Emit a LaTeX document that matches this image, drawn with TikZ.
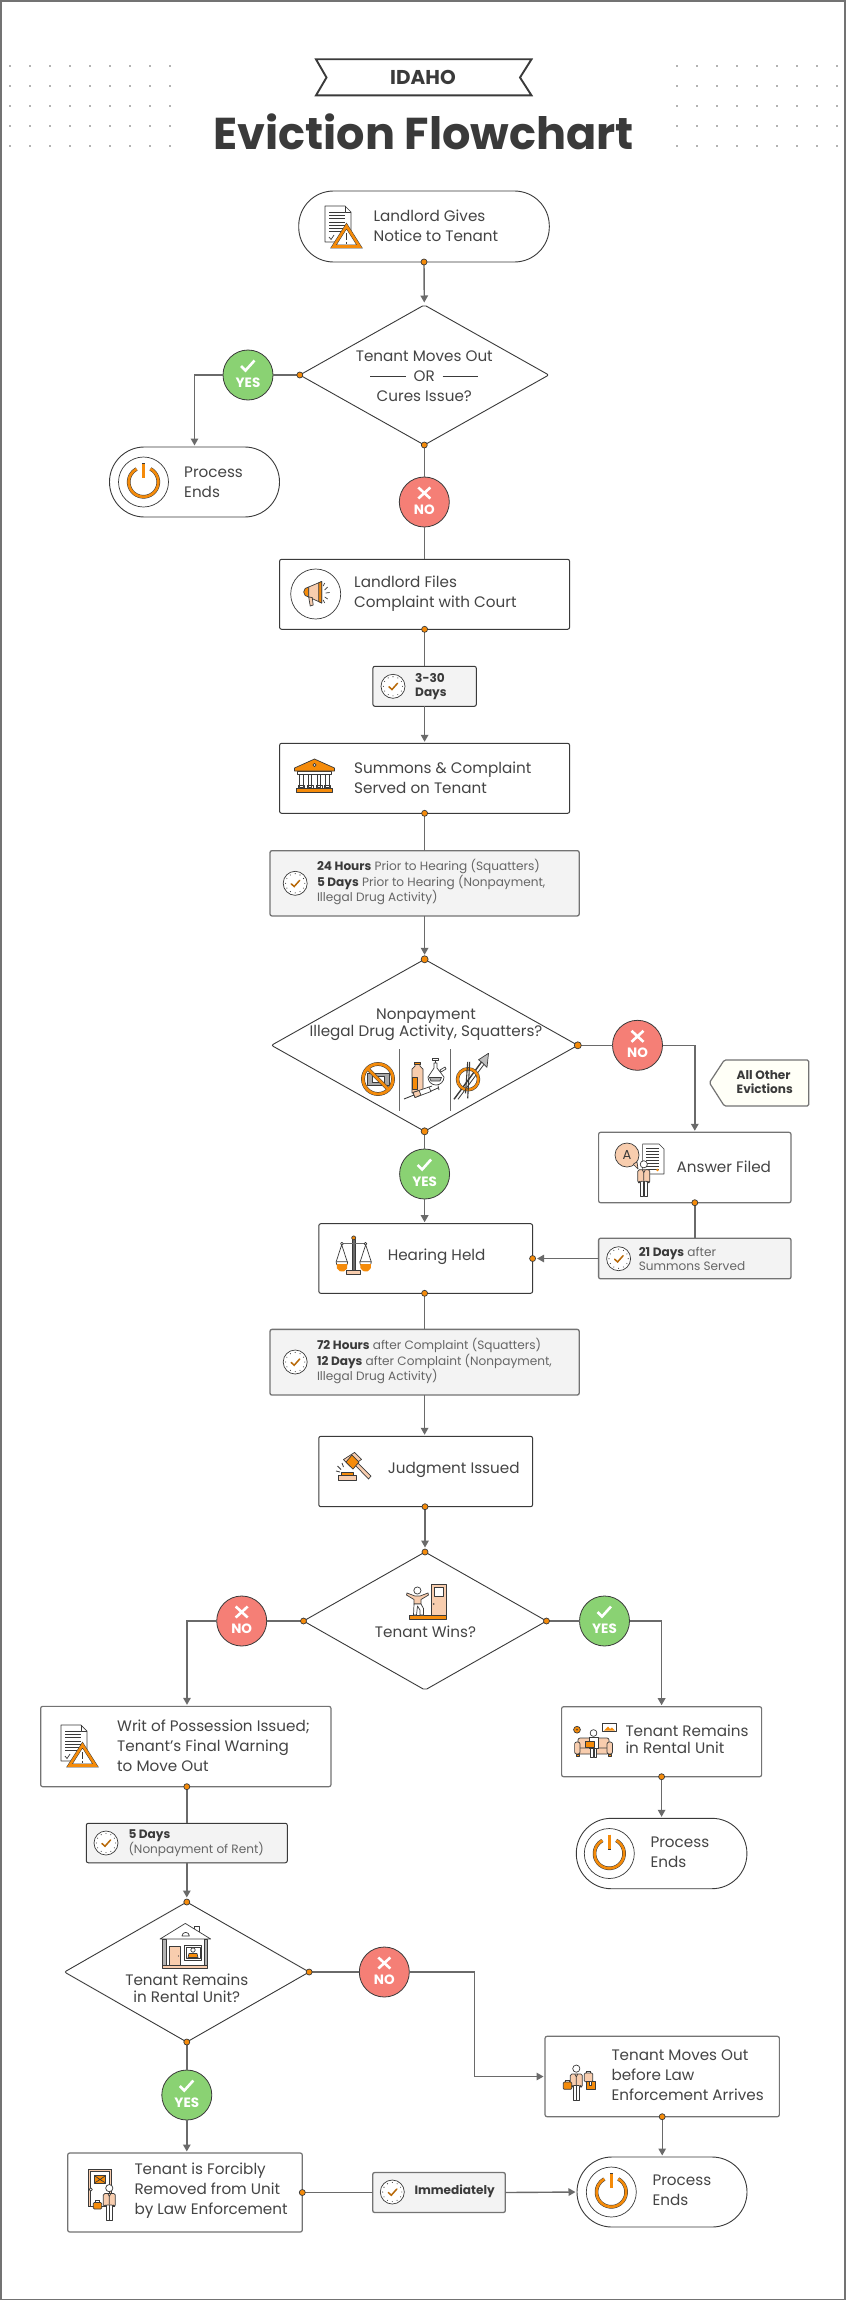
\documentclass[tikz,border=0pt]{standalone}
\usepackage{fontspec}
\setmainfont{Poppins}
\usetikzlibrary{arrows.meta,shapes.geometric,calc}
\definecolor{ink}{HTML}{3A3A3A}
\definecolor{txtc}{HTML}{444444}
\definecolor{subc}{HTML}{666666}
\definecolor{org}{HTML}{F58B0A}
\definecolor{peach}{HTML}{F8CDAE}
\definecolor{grn}{HTML}{8AD273}
\definecolor{rd}{HTML}{F57F76}
\definecolor{boxg}{HTML}{F3F3F3}
\definecolor{gline}{HTML}{6A6A6A}
\tikzset{
 ic/.style={draw=ink,line width=.7pt,line join=round},
 bx/.style={rectangle,draw=ink,line width=1pt,fill=white,rounded corners=2pt,inner sep=0,outer sep=0},
 gbx/.style={bx,draw=gray!90!black,line width=1.3pt,fill=boxg},
 wbx/.style={bx,draw=gray!90!black,line width=1.2pt},
 pill/.style={bx,line width=.9pt,rounded corners=34.9pt},
 dmd/.style={diamond,draw=ink,line width=.9pt,fill=white,inner sep=0,outer sep=0,rounded corners=2pt},
 dotn/.style={circle,fill=org,draw=ink,line width=.7pt,inner sep=0,minimum size=6pt,outer sep=0},
 conn/.style={draw=gline,line width=1.4pt},
 arr/.style={conn,-{Triangle[length=7pt,width=7.5pt]},shorten >=1.5pt},
 txt/.style={anchor=west,align=left,inner sep=0,text=txtc,font=\fontsize{15.2}{20}\selectfont},
 ctxt/.style={txt,anchor=center,align=center},
 sm/.style={anchor=west,align=left,inner sep=0,text=subc,font=\fontsize{12.1}{14}\selectfont},
 badge/.style={circle,draw=ink,line width=.8pt,minimum size=50pt,inner sep=0,outer sep=0},
 btxt/.style={inner sep=0,text=white,font=\fontsize{13.5}{14}\selectfont\bfseries},
 pics/clock/.style={code={
   \draw[ic,fill=white] (0,0) circle[radius=12pt];
   \foreach \a in {0,30,...,330}{\fill[ink] (\a:9.6pt) circle[radius=.55pt];}
   \draw[org!75!black,line width=1.5pt,line cap=round] (-4,0.5)--(-1,3.2)--(4.5,-3);
 }},
 pics/power/.style={code={
   \draw[ic,fill=white] (0,0) circle[radius=25pt];
   \draw[ink,line width=3.6pt] (62:14.8pt) arc[start angle=62,end angle=-242,radius=14.8pt];
   \draw[org,line width=2.6pt] (62:14.8pt) arc[start angle=62,end angle=-242,radius=14.8pt];
   \draw[ink,line width=3.4pt] (0,-19)--(0,-4);
   \draw[org,line width=2.4pt] (0,-18.5)--(0,-4.5);
 }},
 pics/docwarn/.style={code={
   \draw[ic,fill=white] (0,0)--(20,0)--(26,6)--(26,36)--(0,36)--cycle;
   \draw[ic] (20,0)--(20,6)--(26,6);
   \foreach \y in {6,9.3,...,28}{\draw[ink,line width=.8pt] (4,\y)--(20,\y);}
   \draw[ink,line width=.7pt] (4,31)--(6,33.5)--(9,29);
   \draw[ink,line width=3.6pt,fill=white,line join=miter] (21.5,20)--(8.5,40.5)--(34.5,40.5)--cycle;
   \draw[org,line width=2.6pt,line join=miter] (21.5,20)--(8.5,40.5)--(34.5,40.5)--cycle;
   \draw[ink,line width=1.4pt] (21.5,27)--(21.5,34) (21.5,35.5)--(21.5,37.5);
 }},
 pics/horn/.style={code={
   \draw[ic,fill=org] (-7,-7) arc[start angle=90,end angle=270,radius=5pt]--cycle;
   \draw[ic,fill=peach] (-7,-7)--(6,-12.5)--(6,9)--(-7,3)--cycle;
   \draw[ic,fill=org] (3,-11.3)--(6,-12.5)--(6,9)--(3,7.6)--cycle;
   \draw[ic,fill=peach] (-7,3)--(-3.5,3.5)--(-2.5,11)--(-5.5,12)--cycle;
   \draw[ink,line width=.7pt] (9,-4)--(12,-7) (10,-1)--(14,-1.5) (9,3)--(12,5) (7.5,-8)--(9,-11) (7.5,6)--(9,9);
 }},
 pics/bank/.style={code={
   \draw[ic,fill=white] (-17,-5) rectangle (17,-1.5);
   \foreach \x in {-13,-4.5,4.5,13}{\draw[ic,fill=white] (\x-1.8,-1.5) rectangle (\x+1.8,11);\draw[ic] (\x-3,9.5) rectangle (\x+3,12);}
   \draw[ic,fill=org] (-20,-8)--(0,-17)--(20,-8)--(20,-5)--(-20,-5)--cycle;
   \draw[ic,fill=white] (0,-11) circle[radius=1.6pt];
   \draw[ic,fill=org] (-18,12) rectangle (18,16);
 }},
 pics/nomoney/.style={code={
   \draw[ic,fill=gray!70] (-11,-6) rectangle (11,6);
   \draw[ic,fill=white] (-6,-3) rectangle (6,3);
   \draw[ink,line width=3.8pt] (0,0) circle[radius=15pt] (-10.5,-10.5)--(10.5,10.5);
   \draw[org,line width=2.8pt] (0,0) circle[radius=15pt] (-10.6,-10.6)--(10.6,10.6);
 }},
 pics/drugs/.style={code={
   \draw[ic,fill=peach] (8,21)--(8,11)--(11,8)--(11,5)--(16,5)--(16,8)--(19,11)--(19,35)--(8,35)--cycle;
   \draw[ic,fill=org] (8,19) rectangle (13,31);
   \draw[ic,fill=org] (10.5,4) rectangle (16.5,6.5);
   \draw[ic,fill=white] (30,5)--(30,10)--(24,19) arc[start angle=180,end angle=360,radius=8pt]--(33,10)--(33,5)--cycle;
   \draw[ic,fill=gray!60] (25.5,19.5)--(37.5,19.5)--(36,23)--(27,23)--cycle;
   \draw[ic,fill=white] (36,12) -- (41,9)--(42,11)--(37,14)--cycle;
   \draw[ic,fill=white] (28.5,0.8) rectangle (34.5,2.8) ;
   \draw[ink,line width=.7pt] (31.5,3)--(31.5,5);
   \draw[ink,line width=.9pt] (0,41)--(10,37);
   \draw[ic,fill=white] (9,34.5)--(25,29)--(27,33.5)--(11,39.5)--cycle;
   \draw[ic,fill=peach] (9,34.5)--(15,32.5)--(17,37)--(11,39.5)--cycle;
   \draw[ink,line width=.8pt] (25,29)--(28,28) (26,33.5)--(34,30) (34,27.5)--(35,32);
 }},
 pics/crossarrow/.style={code={
   \draw[ink,line width=1.4pt,fill=white] (0,46)--(28,8);
   \draw[ink,line width=.8pt] (4,46)--(30,11);
   \draw[ic,fill=gray!50] (34.5,0)--(33,14)--(28.5,9.5)--(24.5,6.5)--cycle;
   \draw[ink,line width=3.4pt] (14,26) circle[radius=10.5pt];
   \draw[org,line width=2.4pt] (14,26) circle[radius=10.5pt];
   \draw[ink,line width=1.1pt] (15.7,8.5)--(13.7,45);
   \draw[ink,line width=1.1pt] (13.7,8.5)--(11.5,40);
 }},
 pics/human/.style={code={
   \draw[ic,fill=white] (0,3.6) circle[radius=3.6pt];
   \draw[ic,fill=white] (-3.2,20)--(-3.2,35.5)--(-.3,35.5)--(-.3,20)--cycle;
   \draw[ic,fill=white] (.3,20)--(.3,35.5)--(3.2,35.5)--(3.2,20)--cycle;
   \draw[ic,fill=peach,rounded corners=1.5pt] (-6,9)--(6,9)--(6,22)--(4,22)--(4,20.5)--(-4,20.5)--(-4,22)--(-6,22)--cycle;
   \draw[ink,line width=.7pt] (-1.5,9)--(0,12)--(1.5,9) (0,12)--(0,20);
 }},
 pics/scales/.style={code={
   \draw[ic,fill=peach] (-7,34.5) rectangle (7,38.5);
   \draw[ic,fill=gline] (-1.3,4) rectangle (1.3,34.5);
   \draw[gline,line width=1.2pt] (-12,8)--(12,8);
   \draw[ink,line width=.7pt] (-12,9)--(-17.5,26) (-12,9)--(-6.5,26) (12,9)--(6.5,26) (12,9)--(17.5,26);
   \foreach \s in {-11.8,11.8}{
     \draw[ic,fill=white] (\s-5.8,26) arc[start angle=180,end angle=360,radius=5.8pt]--cycle;
     \fill[org] (\s-5.4,28.5)--(\s+5.4,28.5) arc[start angle=20,end angle=-200,radius=5.6pt]--cycle;
     \draw[ic,fill=white] (\s,8) circle[radius=1.4pt];}
   \draw[ic,fill=org] (0,2.2) circle[radius=2pt];
 }},
 pics/gavel/.style={code={
   \draw[ic,fill=peach] (2,23) rectangle (20,28.5);
   \draw[ic,fill=org] (5,20.5) rectangle (17,23);
   \draw[ink,line width=.8pt] (0,19)--(4,20) (1.5,14)--(5,17.5) (6,11)--(7.5,15);
   \draw[ic,fill=peach] (19,13)--(21.5,10.5)--(35,24)--(32.5,27)--cycle;
   \draw[ic,fill=peach] (25.6,7.4)--(18.6,.4)--(7.4,7.6)--(14.4,14.6)--cycle;
   \draw[ic,fill=org] (23,10)--(16,3)--(10,10)--(17,17)--cycle;
 }},
 pics/winner/.style={code={
   \draw[ic,fill=peach] (25.6,0) rectangle (40,31);
   \draw[ic,fill=white] (28.5,3) rectangle (37,12);
   \fill[ink] (27.8,20) circle[radius=.9pt];
   \draw[ic,fill=org] (3.6,31) rectangle (40,35.5);
   \draw[ink,fill=peach,line width=.7pt] (1,9)--(9,12)--(14,12)--(22,9)--(22.5,11)--(15,15.5)--(15,20)--(8,20)--(8,15.5)--(.5,11)--cycle;
   \draw[ic,fill=white] (11.4,6.5) circle[radius=3.6pt];
   \draw[ic,fill=white] (8,20)--(7.5,31)--(10.5,31)--(11.5,22)--(14,26)--(14,31)--(17.5,31)--(17.5,24.5)--(15,20)--cycle;
 }},
 pics/couch/.style={code={
   \draw[ink,line width=.7pt,fill=org] (4,6.7) circle[radius=3.4pt];
   \fill[ink] (4,6.7) circle[radius=.8pt];
   \draw[ic,fill=white] (29.5,0) rectangle (43,8.7);
   \fill[org] (31,7.5)--(35,3.5)--(37,6)--(39,4.5)--(42,7.5)--cycle;
   \draw[ic,fill=peach,rounded corners=2pt] (5,15) rectangle (36,27);
   \draw[ic,fill=peach,rounded corners=2pt] (5,25) rectangle (36,31);
   \draw[ic,fill=peach,rounded corners=2pt] (1.6,19) rectangle (7,31);
   \draw[ic,fill=peach,rounded corners=2pt] (34,19) rectangle (39.5,31);
   \draw[ic,fill=org] (3,31) rectangle (6,33.5) (35,31) rectangle (38,33.5);
   \draw[ic,fill=white] (20.5,10) circle[radius=3.4pt];
   \draw[ic,fill=white] (16,14) rectangle (25,25);
   \draw[ic,fill=white] (17.5,25) rectangle (20,34) (21,25) rectangle (23.5,34);
   \draw[ic,fill=org] (12.6,18.7) rectangle (21.6,24);
 }},
 pics/house/.style={code={
   \draw[ic,fill=white] (34,3.5) rectangle (39,9);
   \draw[ic,fill=white] (0,16)--(25.3,.4)--(50.7,16)--(47.5,16)--(2.7,16)--cycle;
   \draw[ic,fill=white] (22,13) arc[start angle=180,end angle=0,radius=3.7pt]--cycle;
   \draw[ic,fill=gray!60] (2.7,16) rectangle (6,42.7);
   \draw[ic,fill=gray!60] (44.5,16) rectangle (47.7,42.7);
   \draw[ic,fill=peach] (9.3,23) rectangle (20.7,42.7);
   \fill[ink] (18.5,33) circle[radius=.7pt];
   \draw[ic,fill=white] (24.3,22) rectangle (41.7,37);
   \draw[ic,fill=white] (26,24) rectangle (40,35);
   \draw[ic,fill=white] (33,27) circle[radius=2.2pt];
   \draw[ic,fill=org] (28,34.5)--(29,30.5)--(37,30.5)--(38,34.5)--cycle;
   \draw[ic,fill=peach] (2.7,42.7) rectangle (47.7,45.4);
 }},
 pics/forced/.style={code={
   \draw[ink,line width=.7pt,fill=peach] (0,0) rectangle (23.7,37.7);
   \draw[ink,line width=.7pt,fill=white] (2.8,2.8) rectangle (21,37.7);
   \draw[ic,fill=org] (6.3,6.5) rectangle (17.7,14);
   \draw[ink,line width=.7pt] (6.3,6.5)--(12,10.5)--(17.7,6.5) (6.3,14)--(12,10.5)--(17.7,14);
   \draw[ic,fill=white] (2.8,20.5) circle[radius=1.6pt];
   \draw[ic,fill=org,rounded corners=1pt] (5.3,33.5) rectangle (13.7,40);
   \draw[ink,line width=.7pt] (7.5,33.5)--(7.5,31.7)--(11.5,31.7)--(11.5,33.5);
   \draw[ink,line width=.7pt] (13.7,37)--(17,37);
   \begin{scope}[shift={(21.3,15.5)},scale=.72]\pic {human};\end{scope}
 }},
 pics/movers/.style={code={
   \begin{scope}[shift={(13.3,4)},scale=.73]\pic {human};\end{scope}
   \draw[ic,fill=org,rounded corners=1pt] (.3,21) rectangle (8.7,28.3);
   \draw[ink,line width=.7pt] (2.5,21)--(2.5,19)--(6.5,19)--(6.5,21);
   \draw[ic,fill=peach,rounded corners=1pt] (21.3,12) rectangle (29.7,20.7);
   \draw[ink,line width=.7pt] (23.5,12)--(23.5,10)--(27.5,10)--(27.5,12);
   \draw[ic,fill=org] (23,20) rectangle (32,28);
   \draw[ic,fill=white] (26.5,20) rectangle (28.5,24);
 }},
}
\newcommand{\yesb}[3]{%
 \node[badge,fill=grn] (#1) at (#2,#3) {};
 \node[btxt] (#1t) at (#2,#3+7.5) {YES};
 \draw[white,line width=2.6pt] (#2-7,#3-9)--(#2-2.5,#3-4.5)--(#2+6.5,#3-14.5);
}
\newcommand{\nob}[3]{%
 \node[badge,fill=rd] (#1) at (#2,#3) {};
 \node[btxt] (#1t) at (#2,#3+7.5) {NO};
 \draw[white,line width=2.6pt] (#2-6,#3-14.5)--(#2+6,#3-3.5) (#2+6,#3-14.5)--(#2-6,#3-3.5);
}
\begin{document}
\begin{tikzpicture}[x=1pt,y=-1pt]
\useasboundingbox (0,0) rectangle (846,2301);
\draw[draw=gray!90!black,fill=white,line width=1.8pt] (.8,.8) rectangle (845,2299.5);
% dots
\foreach \y in {66,86,106,126,146}{\foreach \x in {0,...,8}{
  \fill[gray!80!black] (10+20*\x,\y) circle[radius=.8pt];
  \fill[gray!80!black] (677+20*\x,\y) circle[radius=.8pt];}}
% title
\draw[ink,line width=1.9pt,fill=white] (316,59.3)--(531.5,59.3)--(520,77.5)--(531.5,95.4)--(316,95.4)--(326.5,77.5)--cycle;
\node[inner sep=0,text=ink,font=\fontsize{20}{22}\selectfont\bfseries] (idaho) at (423,77.5) {IDAHO};
\node[inner sep=0,text=ink,font=\fontsize{44.6}{48}\selectfont\bfseries] (title) at (423.5,131.5) {Eviction Flowchart};
% shapes
\node[pill,minimum width=250.6pt,minimum height=71pt] (start) at (424,226.5) {};
\node[dmd,minimum width=249pt,minimum height=140pt] (D1) at (424.3,375) {};
\node[pill,minimum width=170pt,minimum height=70pt] (PE1) at (194.5,482) {};
\node[bx,minimum width=290pt,minimum height=70pt] (LF) at (424.6,594.3) {};
\node[gbx,draw=ink,line width=1pt,minimum width=103.4pt,minimum height=40pt] (T330) at (424.6,686.3) {};
\node[bx,minimum width=290pt,minimum height=70pt] (SC) at (424.6,778.3) {};
\node[gbx,minimum width=309.2pt,minimum height=65.3pt] (T24) at (424.6,883.3) {};
\node[dmd,minimum width=306.4pt,minimum height=172pt] (D2) at (424.6,1045.3) {};
\node[wbx,minimum width=192.4pt,minimum height=70.4pt] (Ans) at (694.8,1167.5) {};
\node[gbx,minimum width=192.4pt,minimum height=40.6pt] (T21) at (694.8,1258.5) {};
\node[bx,minimum width=213.8pt,minimum height=69.6pt] (Hear) at (425.7,1258.5) {};
\node[gbx,minimum width=309.2pt,minimum height=65.7pt] (T72) at (424.6,1362.2) {};
\node[bx,minimum width=213.8pt,minimum height=70.4pt] (Judg) at (425.7,1471.5) {};
\node[dmd,minimum width=243pt,minimum height=138pt] (D3) at (425,1621) {};
\node[wbx,minimum width=200pt,minimum height=70pt] (TR) at (661.6,1741.7) {};
\node[pill,minimum width=170.6pt,minimum height=70.4pt] (PE2) at (661.6,1853.5) {};
\node[wbx,minimum width=290.3pt,minimum height=80.3pt] (Writ) at (185.8,1746.5) {};
\node[gbx,draw=ink,line width=1pt,minimum width=201pt,minimum height=39.5pt] (T5) at (186.8,1843) {};
\node[dmd,minimum width=244.7pt,minimum height=140pt] (D4) at (186.8,1972) {};
\node[wbx,minimum width=234.3pt,minimum height=80.4pt] (TM) at (662.2,2076.5) {};
\node[pill,minimum width=170pt,minimum height=70pt] (PE3) at (662,2192) {};
\node[wbx,minimum width=234.6pt,minimum height=79pt] (TF) at (185,2192.5) {};
\node[gbx,minimum width=132.6pt,minimum height=40pt] (Imm) at (439,2192.5) {};
\draw[draw=gray!90!black,line width=1.2pt,fill=white!97!yellow,rounded corners=1.5pt] (709.4,1082.7)--(724.3,1060)--(808.8,1060)--(808.8,1106)--(724.3,1106)--cycle;
% badges
\yesb{yA}{248}{375}
\nob{nA}{424.3}{502}
\nob{nB}{637.5}{1045.3}
\yesb{yB}{424.6}{1174}
\nob{nC}{241.7}{1621}
\yesb{yC}{604.5}{1621}
\nob{nD}{384.3}{1972}
\yesb{yD}{186.8}{2095}
\coordinate (cTM) at (474.3,2076.5);
% connection dots
\coordinate (aS) at (start.south);
\coordinate (aD1w) at (D1.west);
\coordinate (aD1s) at (D1.south);
\coordinate (aLF) at (LF.south);
\coordinate (aSC) at (SC.south);
\coordinate (aD2n) at (D2.north);
\coordinate (aD2e) at (D2.east);
\coordinate (aD2s) at (D2.south);
\coordinate (aAns) at (Ans.south);
\coordinate (aHe) at (Hear.east);
\coordinate (aHs) at (Hear.south -| T72.north);
\coordinate (aJ) at (Judg.south -| D3.north);
\coordinate (aD3n) at (D3.north);
\coordinate (aD3w) at (D3.west);
\coordinate (aD3e) at (D3.east);
\coordinate (aTR) at (TR.south);
\coordinate (aW) at (Writ.south -| D4.north);
\coordinate (aD4n) at (D4.north);
\coordinate (aD4e) at (D4.east);
\coordinate (aD4s) at (D4.south);
\coordinate (aTM) at (TM.south);
\coordinate (aTF) at (TF.east);
% connectors
\draw[arr,shorten >=2.5pt] (aS) -- (D1.north);
\draw[conn] (aD1w) -- (yA);
\draw[arr] (yA.west) -| (PE1.north);
\draw[conn] (aD1s) -- (nA);
\draw[conn] (nA.south) -- (nA.south |- LF.north);
\draw[conn] (aLF) -- (T330.north);
\draw[arr] (T330.south) -- (SC.north);
\draw[conn] (aSC) -- (T24.north);
\draw[arr,shorten >=4.5pt] (T24.south) -- (aD2n);
\draw[conn] (aD2e) -- (nB);
\draw[arr] (nB.east) -| (Ans.north);
\draw[conn] (aD2s) -- (yB);
\draw[arr] (yB.south) -- (yB.south |- Hear.north);
\draw[conn] (aAns) -- (T21.north);
\draw[arr,shorten >=4.5pt] (T21.west) -- (aHe);
\draw[conn] (aHs) -- (T72.north);
\draw[arr] (T72.south) -- (T72.south |- Judg.north);
\draw[arr,shorten >=4.5pt] (aJ) -- (aD3n);
\draw[conn] (aD3w) -- (nC);
\draw[arr] (nC.west) -| ([xshift=1.2pt]Writ.north);
\draw[conn] (aD3e) -- (yC);
\draw[arr] (yC.east) -| (TR.north);
\draw[arr] (aTR) -- (aTR |- PE2.north);
\draw[conn] (aW) -- (aW |- T5.north);
\draw[arr,shorten >=4.5pt] (T5.south) -- (aD4n);
\draw[conn] (aD4e) -- (nD);
\draw[arr] (nD.east) -| (cTM) -- (TM.west);
\draw[conn] (aD4s) -- (yD);
\draw[arr] (yD.south) -- (yD.south |- TF.north);
\draw[conn] (aTF) -- (Imm.west);
\draw[arr] (Imm.east) -- (PE3.west);
\draw[arr] (aTM) -- (aTM |- PE3.north);
% dots over lines
\node[dotn] (dS) at (aS) {};
\node[dotn] (dD1w) at (aD1w) {};
\node[dotn] (dD1s) at (aD1s) {};
\node[dotn] (dLF) at (aLF) {};
\node[dotn] (dSC) at (aSC) {};
\node[dotn,minimum size=7pt] (dD2n) at (aD2n) {};
\node[dotn,minimum size=7pt] (dD2e) at (aD2e) {};
\node[dotn,minimum size=7pt] (dD2s) at (aD2s) {};
\node[dotn] (dAns) at (aAns) {};
\node[dotn] (dHe) at (aHe) {};
\node[dotn] (dHs) at (aHs) {};
\node[dotn] (dJ) at (aJ) {};
\node[dotn] (dD3n) at (aD3n) {};
\node[dotn] (dD3w) at (aD3w) {};
\node[dotn] (dD3e) at (aD3e) {};
\node[dotn] (dTR) at (aTR) {};
\node[dotn] (dW) at (aW) {};
\node[dotn] (dD4n) at (aD4n) {};
\node[dotn] (dD4e) at (aD4e) {};
\node[dotn] (dD4s) at (aD4s) {};
\node[dotn] (dTM) at (aTM) {};
\node[dotn] (dTF) at (aTF) {};
% texts
\node[txt] (tStart) at (373.4,225.5) {Landlord Gives\\Notice to Tenant};
\node[ctxt] (tD1a) at (424.3,356) {Tenant Moves Out};
\node[ctxt] (tD1b) at (424.3,376) {OR};
\node[ctxt] (tD1c) at (424.3,396) {Cures Issue?};
\coordinate (ora) at (370,376); \coordinate (orb) at (406,376);
\coordinate (orc) at (442.5,376); \coordinate (ord) at (478,376);
\draw[ink,line width=.8pt] (ora)--(orb) (orc)--(ord);
\node[txt] (tPE1) at (184,482) {Process\\Ends};
\node[txt] (tLF) at (354,594) {Landlord Files\\Complaint with Court};
\node[txt] (tSC) at (354,778) {Summons \& Complaint\\Served on Tenant};
\node[txt] (tD2a) at (426,1024.5) [anchor=center,align=center,font=\fontsize{15.2}{16.7}\selectfont] {Nonpayment\\Illegal Drug Activity, Squatters?};
\node[txt] (tAns) at (676.4,1167) {Answer Filed};
\node[txt] (tHear) at (387.6,1257) {Hearing Held};
\node[txt] (tJudg) at (387.6,1470) {Judgment Issued};
\node[ctxt] (tD3) at (425.5,1632) {Tenant Wins?};
\node[txt,font=\fontsize{15.2}{17.3}\selectfont] (tTR) at (625.3,1739.5) {Tenant Remains\\in Rental Unit};
\node[txt] (tPE2) at (650.3,1852.7) {Process\\Ends};
\node[txt] (tWrit) at (117,1745.5) {Writ of Possession Issued;\\Tenant’s Final Warning\\to Move Out};
\node[ctxt,font=\fontsize{15.2}{17}\selectfont] (tD4) at (186.8,1988) {Tenant Remains\\in Rental Unit?};
\node[txt] (tTM) at (611.3,2074.7) {Tenant Moves Out\\before Law\\Enforcement Arrives};
\node[txt] (tPE3) at (652.3,2190.7) {Process\\Ends};
\node[txt] (tTF) at (134.3,2190.5) {Tenant is Forcibly\\Removed from Unit\\by Law Enforcement};
\node[sm] (t330) at (415,686.3) {\textcolor{ink}{\bfseries 3-30}\\\textcolor{ink}{\bfseries Days}};
\node[sm] (t24) at (316.8,882.3) {\textcolor{ink}{\bfseries 24 Hours} Prior to Hearing (Squatters)\\\textcolor{ink}{\bfseries 5 Days} Prior to Hearing (Nonpayment,\\Illegal Drug Activity)};
\node[sm] (t21) at (638.6,1259.3) {\textcolor{ink}{\bfseries 21 Days} after\\Summons Served};
\node[sm] (t72) at (316.8,1361.3) {\textcolor{ink}{\bfseries 72 Hours} after Complaint (Squatters)\\\textcolor{ink}{\bfseries 12 Days} after Complaint (Nonpayment,\\Illegal Drug Activity)};
\node[sm] (t5) at (128.3,1843.3) {\textcolor{ink}{\bfseries 5 Days}\\(Nonpayment of Rent)};
\node[sm] (tImm) at (414.3,2191.5) {\textcolor{ink}{\bfseries Immediately}};
\node[sm] (tAll) at (736.5,1082.3) {\textcolor{ink}{\bfseries All Other}\\\textcolor{ink}{\bfseries Evictions}};
% icons
\pic at (325,206) {docwarn};
\pic at (61,1725) {docwarn};
\pic at (143.5,482) {power};
\pic at (609.3,1853.5) {power};
\pic at (611.3,2192) {power};
\draw[ic,fill=white] (315.7,594) circle[radius=25pt];
\pic at (315.7,594) {horn};
\pic at (314.5,776) {bank};
\pic at (393,686.3) {clock};
\pic at (295.2,883.3) {clock};
\pic at (618.6,1258.7) {clock};
\pic at (295.2,1362) {clock};
\pic at (106,1843) {clock};
\pic at (392.3,2192) {clock};
\pic at (378,1079) {nomoney};
\draw[gline,line width=.9pt] (399.7,1049)--(399.7,1110.7) (450.4,1049)--(450.4,1110.7);
\pic at (404,1058) {drugs};
\pic at (454,1053.3) {crossarrow};
% answer icon
\draw[ic,fill=white] (642.6,1144)--(659,1144)--(664,1149)--(664,1174)--(642.6,1174)--cycle;
\foreach \y in {1148,1151,...,1169}{\draw[ink,line width=.7pt] (646,\y)--(659,\y);}
\fill[org] (657.5,1170) circle[radius=1.4pt];
\draw[ic,fill=peach] (627,1155) circle[radius=12pt];
\draw[ic,fill=peach] (633,1164)--(638,1169)--(637,1162)--cycle;
\fill[peach] (631,1162) circle[radius=3pt];
\node[inner sep=0,text=ink,font=\fontsize{13}{14}\selectfont] (ansA) at (627,1155) {A};
\pic at (643.8,1160.7) {human};
\pic at (353.7,1235.7) {scales};
\pic at (336,1452) {gavel};
\pic at (406,1584) {winner};
\pic at (573,1723) {couch};
\pic at (160,1923) {house};
\pic at (88,2169) {forced};
\pic at (563,2061) {movers};
\end{tikzpicture}
\end{document}
